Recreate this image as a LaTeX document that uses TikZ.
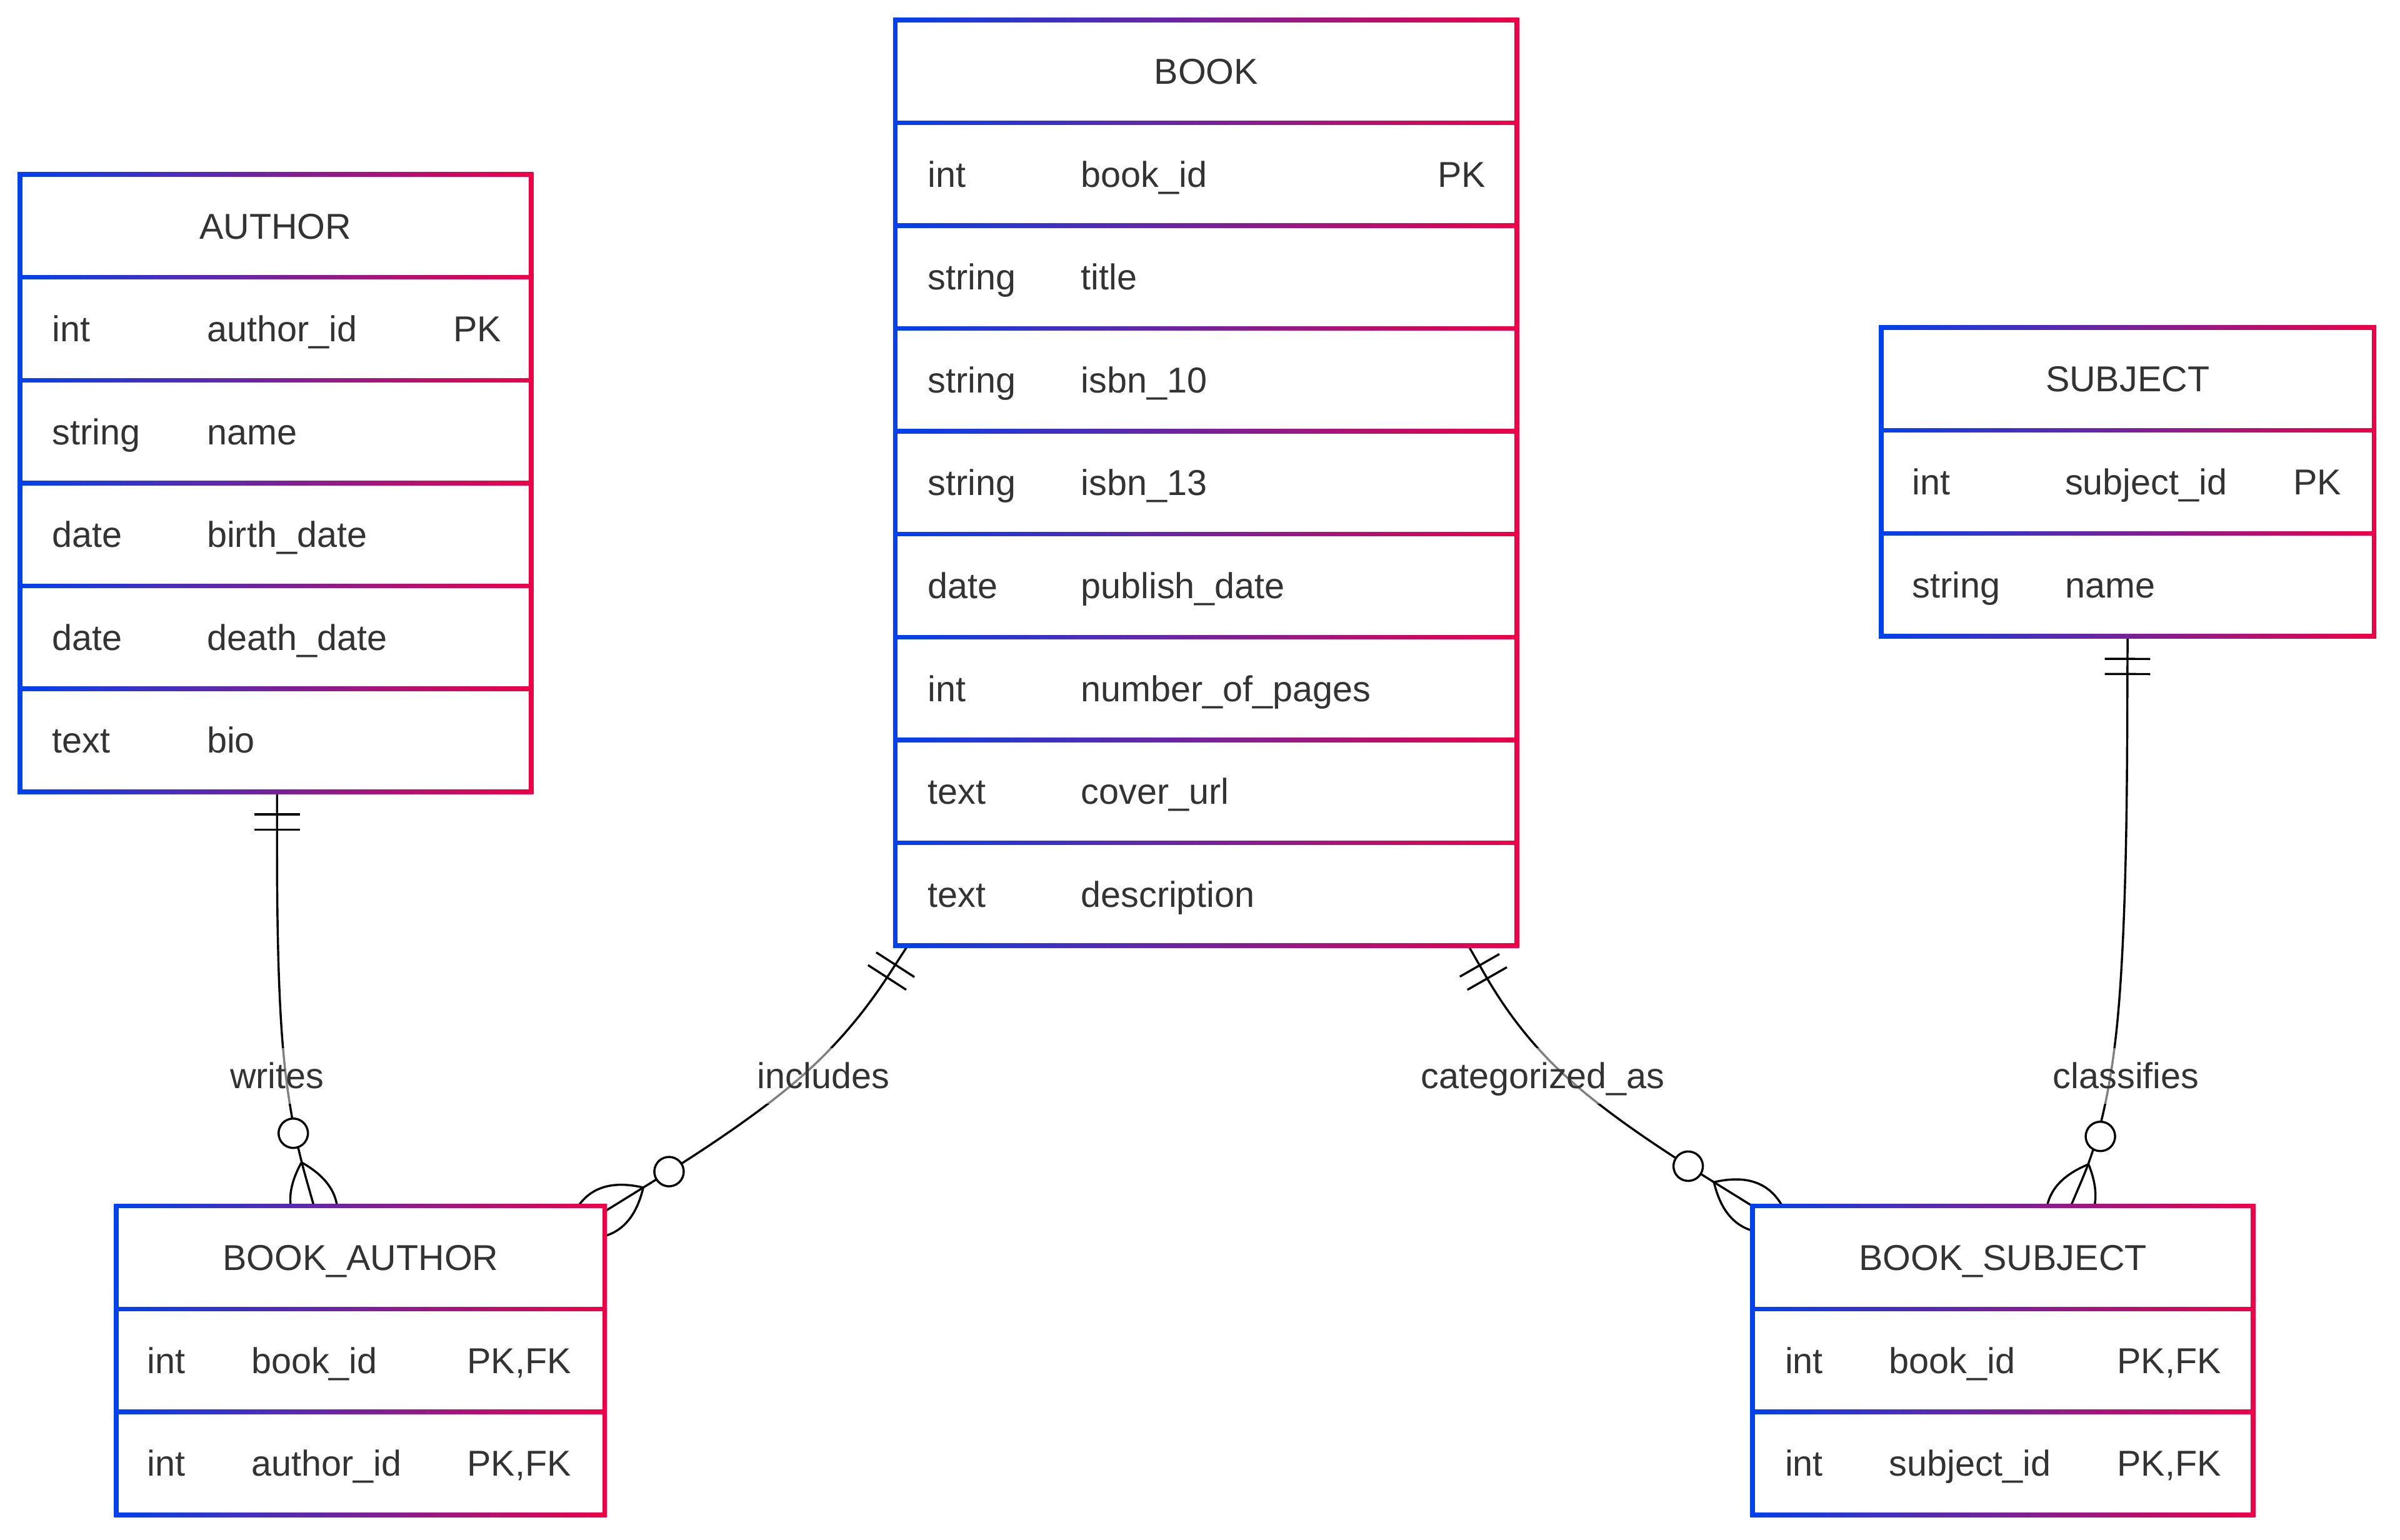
\documentclass[tikz,border=0pt]{standalone}
\usepackage{fontspec}
\setmainfont{Liberation Sans}
\usetikzlibrary{calc}
\definecolor{erblue}{RGB}{0,65,240}
\definecolor{erred}{RGB}{240,0,70}
\definecolor{ertext}{RGB}{51,51,51}
\newcommand{\erfont}{\fontsize{23.5}{28}\selectfont}

\tikzset{
  tbl/.style={rectangle, draw=none, inner sep=0pt, outer sep=0pt},
  hd/.style={anchor=base, inner sep=0pt, text=ertext, font=\erfont},
  cell/.style={anchor=base west, inner sep=0pt, text=ertext, font=\erfont},
  rel/.style={draw=black, line width=1.4pt},
  lbl/.style={fill=white, fill opacity=0.5, text opacity=1, text=ertext, font=\erfont,
    inner xsep=2pt, inner ysep=5pt, text height=21.3pt, text depth=5pt},
  onlyone/.pic={\draw[rel] (14.85,-14.85) -- (14.85,14.85) (24.75,-14.85) -- (24.75,14.85);},
  zeromany/.pic={
    \draw[rel] (29.7,0) .. controls (9.9,19.8) and (-9.9,19.8) .. (-29.7,0)
      .. controls (-9.9,-19.8) and (9.9,-19.8) .. cycle;
    \draw[rel, fill=white] (49.5,0) circle[radius=9.6];
  },
}

% d3 curveBasis through start, label point, end
\newcommand{\erlink}[3]{%
  \draw[rel] (#1) -- ($(#1)!0.16667!(#2)$)
    .. controls ($(#1)!0.33333!(#2)$) and ($(#1)!0.66667!(#2)$) .. ($0.16667*(#1)+0.66667*(#2)+0.16667*(#3)$)
    .. controls ($(#2)!0.33333!(#3)$) and ($(#2)!0.66667!(#3)$) .. ($(#2)!0.83333!(#3)$) -- (#3);}

\newcommand{\erbody}[2]{%
  \shade[left color=erblue, right color=erred] ([shift={(-1.5,-1.5)}]#1.north west) rectangle ([shift={(1.5,1.5)}]#1.south east);
  \foreach \i in {1,...,#2}{\fill[white] ($(#1.north west)+(1.5,{(\i-1)*67.2+1.5})$) rectangle ($(#1.north east)+(-1.5,{\i*67.2-1.5})$);}}
\newcommand{\erhead}[2]{\node[hd] (#1-h) at ($(#1.north)+(0,{0.5*67.2+8.4})$) {#2};}
\newcommand{\errow}[6]{%
  \node[cell] (#1-t#2) at ($(#1.north west)+(#3,{(#2+0.5)*67.2+8.4})$) {#5};
  \node[cell] (#1-n#2) at ($(#1.north west)+(#4,{(#2+0.5)*67.2+8.4})$) {#6};}
\newcommand{\erkey}[4]{\node[cell] (#1-k#2) at ($(#1.north west)+(#3,{(#2+0.5)*67.2+8.4})$) {#4};}

\begin{document}
\begin{tikzpicture}[x=1pt,y=-1pt]
\useasboundingbox (0,0) rectangle (1568,1006);
\fill[white] (0,0) rectangle (1568,1006);

% table frames (named)
\node[tbl, minimum width=334pt, minimum height=403.2pt, anchor=north west] (author) at (13,114) {};
\node[tbl, minimum width=406pt, minimum height=604.8pt, anchor=north west] (book) at (585,13) {};
\node[tbl, minimum width=322pt, minimum height=201.6pt, anchor=north west] (subject) at (1229,214) {};
\node[tbl, minimum width=319pt, minimum height=201.6pt, anchor=north west] (bauthor) at (76,788) {};
\node[tbl, minimum width=327pt, minimum height=201.6pt, anchor=north west] (bsubject) at (1145,788) {};

% connector end points
\coordinate (w-s) at ([xshift=1pt]author.south);
\coordinate (w-m) at (181,703);
\coordinate (w-e) at ([xshift=-30.4pt]bauthor.north);
\coordinate (i-s) at ([xshift=8pt]book.south west);
\coordinate (i-m) at (538,703);
\coordinate (i-e) at ([yshift=-3.5pt]bauthor.north east);
\coordinate (c-s) at ([xshift=-31.7pt]book.south east);
\coordinate (c-m) at (1008,703);
\coordinate (c-e) at (bsubject.north west);
\coordinate (k-s) at (subject.south);
\coordinate (k-m) at (1389,703);
\coordinate (k-e) at ([xshift=44.4pt]bsubject.north);

% connectors
\erlink{w-s}{w-m}{w-e}
\erlink{i-s}{i-m}{i-e}
\erlink{c-s}{c-m}{c-e}
\erlink{k-s}{k-m}{k-e}

\pic[rotate=-90] at (w-s) {onlyone};
\pic[rotate=-122.85] at (i-s) {onlyone};
\pic[rotate=-60.25] at (c-s) {onlyone};
\pic[rotate=-90.2] at (k-s) {onlyone};

\pic[rotate=105.83] at (w-e) {zeromany};
\pic[rotate=31.75] at (i-e) {zeromany};
\pic[rotate=148.18] at (c-e) {zeromany};
\pic[rotate=67.0] at (k-e) {zeromany};

% labels
\node[lbl] (w-l) at (w-m) {writes};
\node[lbl] (i-l) at (i-m) {includes};
\node[lbl] (c-l) at (c-m) {categorized\_as};
\node[lbl] (k-l) at (k-m) {classifies};

% tables
\erbody{author}{6}
\erhead{author}{AUTHOR}
\errow{author}{1}{21}{122}{int}{author\_id}\erkey{author}{1}{283}{PK}
\errow{author}{2}{21}{122}{string}{name}
\errow{author}{3}{21}{122}{date}{birth\_date}
\errow{author}{4}{21}{122}{date}{death\_date}
\errow{author}{5}{21}{122}{text}{bio}

\erbody{book}{9}
\erhead{book}{BOOK}
\errow{book}{1}{21}{121}{int}{book\_id}\erkey{book}{1}{354}{PK}
\errow{book}{2}{21}{121}{string}{title}
\errow{book}{3}{21}{121}{string}{isbn\_10}
\errow{book}{4}{21}{121}{string}{isbn\_13}
\errow{book}{5}{21}{121}{date}{publish\_date}
\errow{book}{6}{21}{121}{int}{number\_of\_pages}
\errow{book}{7}{21}{121}{text}{cover\_url}
\errow{book}{8}{21}{121}{text}{description}

\erbody{subject}{3}
\erhead{subject}{SUBJECT}
\errow{subject}{1}{20}{120}{int}{subject\_id}\erkey{subject}{1}{269}{PK}
\errow{subject}{2}{20}{120}{string}{name}

\erbody{bauthor}{3}
\erhead{bauthor}{BOOK\_AUTHOR}
\errow{bauthor}{1}{20}{88}{int}{book\_id}\erkey{bauthor}{1}{229}{PK,FK}
\errow{bauthor}{2}{20}{88}{int}{author\_id}\erkey{bauthor}{2}{229}{PK,FK}

\erbody{bsubject}{3}
\erhead{bsubject}{BOOK\_SUBJECT}
\errow{bsubject}{1}{21}{89}{int}{book\_id}\erkey{bsubject}{1}{238}{PK,FK}
\errow{bsubject}{2}{21}{89}{int}{subject\_id}\erkey{bsubject}{2}{238}{PK,FK}
\end{tikzpicture}
\end{document}
